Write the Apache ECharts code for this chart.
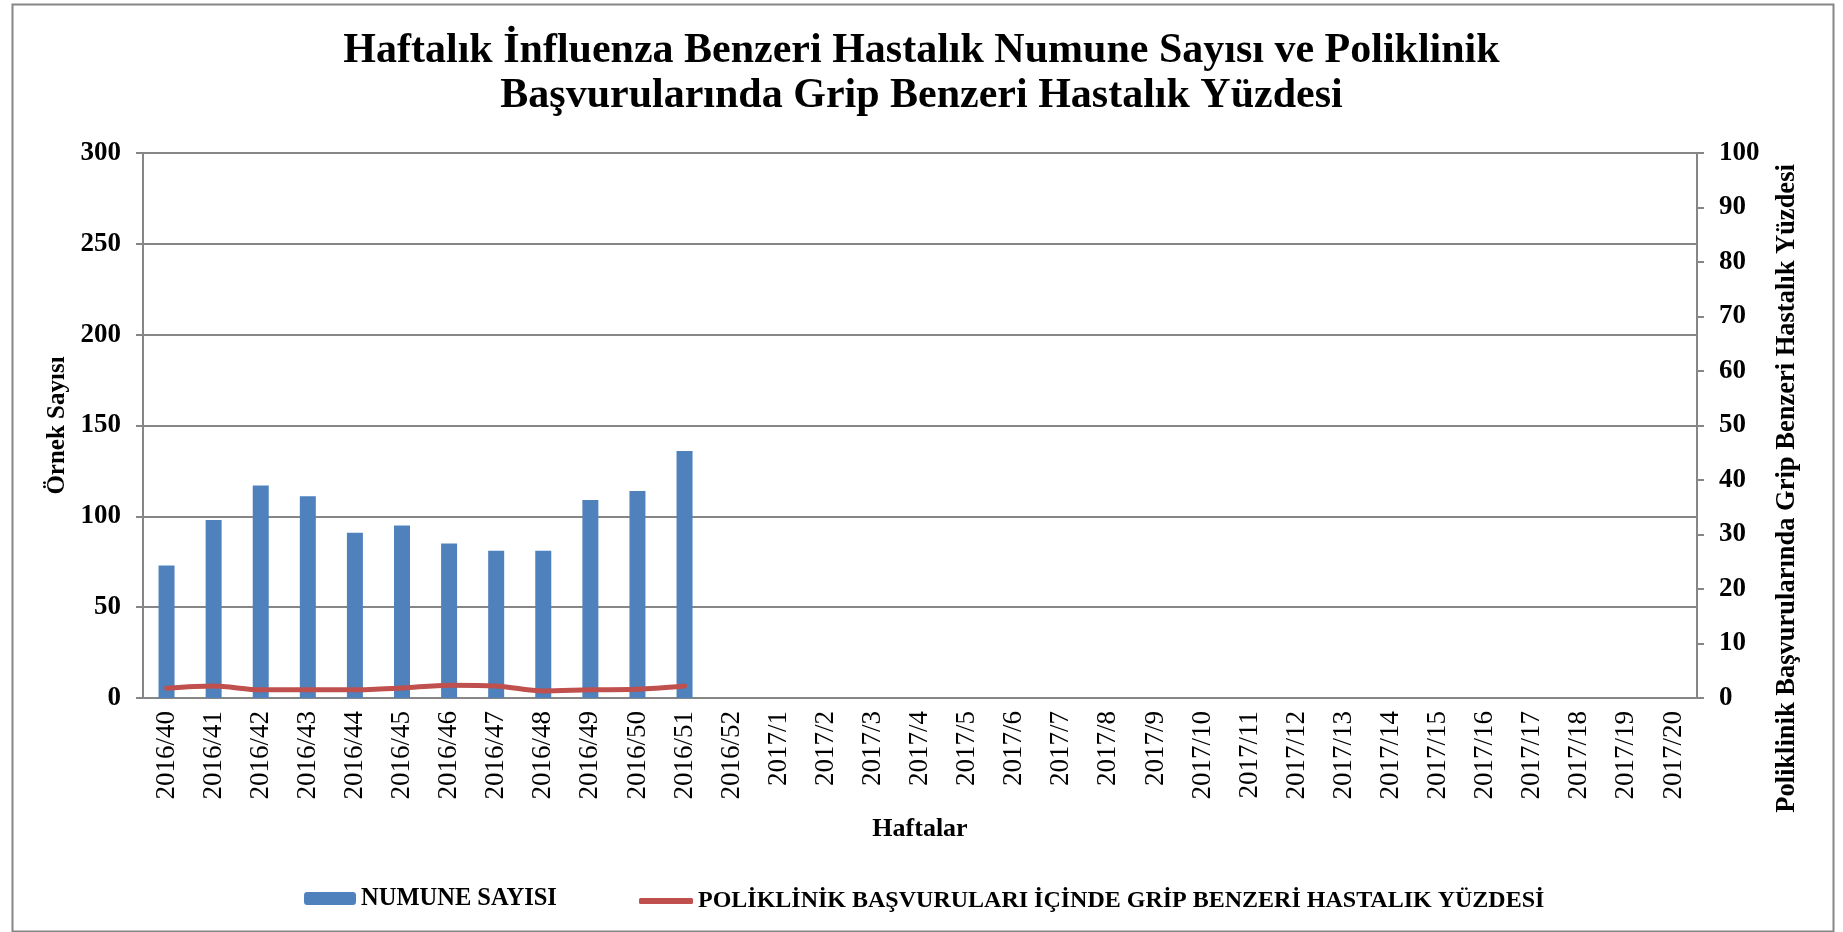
<!DOCTYPE html>
<html>
<head>
<meta charset="utf-8">
<script src="https://cdn.jsdelivr.net/npm/echarts@6/dist/echarts.min.js"></script>
<style>
html,body{margin:0;padding:0;background:#fff;}
#chart{width:1843px;height:932px;}
</style>
</head>
<body>
<div id="chart"></div>
<script>
const titleLines = ['Haftalık İnfluenza Benzeri Hastalık Numune Sayısı ve Poliklinik', 'Başvurularında Grip Benzeri Hastalık Yüzdesi'];
const weeks = ['2016/40','2016/41','2016/42','2016/43','2016/44','2016/45','2016/46','2016/47','2016/48','2016/49','2016/50','2016/51','2016/52',
  '2017/1','2017/2','2017/3','2017/4','2017/5','2017/6','2017/7','2017/8','2017/9','2017/10','2017/11','2017/12','2017/13','2017/14','2017/15','2017/16','2017/17','2017/18','2017/19','2017/20'];
const numuneSayisi = [73, 98, 117, 111, 91, 95, 85, 81, 81, 109, 114, 136];
const gbhYuzdesi = [1.8, 2.2, 1.5, 1.5, 1.5, 1.85, 2.35, 2.2, 1.3, 1.5, 1.6, 2.2];
const leftTicks = {min: 0, max: 300, interval: 50};
const rightTicks = {min: 0, max: 100, interval: 10};
const seriesNames = ['NUMUNE SAYISI', 'POLİKLİNİK BAŞVURULARI İÇİNDE GRİP BENZERİ HASTALIK YÜZDESİ'];
const axisNames = {x: 'Haftalar', left: 'Örnek Sayısı', right: 'Poliklinik Başvurularında Grip Benzeri Hastalık Yüzdesi'};

const FONT = '"Liberation Serif", "Times New Roman", serif';
const chart = echarts.init(document.getElementById('chart'));
const gray = '#868686';
chart.setOption({
  backgroundColor: '#fff',
  animation: false,
  title: {
    text: titleLines.join('\n'),
    left: 'center', top: 24,
    textStyle: {fontFamily: FONT, fontWeight: 'bold', fontSize: 42, lineHeight: 45, color: '#000'}
  },
  graphic: [{
    type: 'rect', left: 10, top: 2, silent: true,
    shape: {width: 1821, height: 927},
    style: {fill: 'none', stroke: gray, lineWidth: 2}
  }],
  legend: [{
    data: [seriesNames[0]], left: 304, top: 886, padding: 0,
    itemWidth: 52, itemHeight: 13,
    textStyle: {fontFamily: FONT, fontWeight: 'bold', fontSize: 24.5, color: '#000'}
  }, {
    data: [{name: seriesNames[1], icon: 'roundRect'}], left: 639, top: 889, padding: 0,
    itemWidth: 54, itemHeight: 6,
    textStyle: {fontFamily: FONT, fontWeight: 'bold', fontSize: 24, color: '#000'}
  }],
  grid: {left: 143, right: 146, top: 153, bottom: 234, containLabel: false},
  xAxis: {
    type: 'category', data: weeks, boundaryGap: true,
    name: axisNames.x, nameLocation: 'middle', nameGap: 118,
    nameTextStyle: {fontFamily: FONT, fontWeight: 'bold', fontSize: 26, color: '#000'},
    axisLine: {lineStyle: {color: gray, width: 2}},
    axisTick: {show: false},
    axisLabel: {rotate: 90, margin: 13, interval: 0, fontFamily: FONT, fontSize: 27, color: '#000'}
  },
  yAxis: [{
    type: 'value', ...leftTicks,
    name: axisNames.left, nameLocation: 'middle', nameGap: 72, nameRotate: 90,
    nameTextStyle: {fontFamily: FONT, fontWeight: 'bold', fontSize: 25, color: '#000'},
    axisLine: {show: true, lineStyle: {color: gray, width: 2}},
    axisTick: {show: true, length: 7, lineStyle: {color: gray, width: 2}},
    axisLabel: {margin: 22, fontFamily: FONT, fontWeight: 'bold', fontSize: 27, color: '#000'},
    splitLine: {lineStyle: {color: gray, width: 2}}
  }, {
    type: 'value', ...rightTicks, position: 'right',
    name: axisNames.right, nameLocation: 'middle', nameGap: 77, nameRotate: 90,
    nameTextStyle: {fontFamily: FONT, fontWeight: 'bold', fontSize: 26.5, color: '#000', padding: [0, 126, 0, 0]},
    axisLine: {show: true, lineStyle: {color: gray, width: 2}},
    axisTick: {show: true, length: 7, lineStyle: {color: gray, width: 2}},
    axisLabel: {margin: 22, fontFamily: FONT, fontWeight: 'bold', fontSize: 27, color: '#000'},
    splitLine: {show: false}
  }],
  series: [{
    name: seriesNames[0], type: 'bar', yAxisIndex: 0,
    data: numuneSayisi, barWidth: 16,
    itemStyle: {color: '#4F81BD'}
  }, {
    name: seriesNames[1], type: 'line', yAxisIndex: 1,
    data: gbhYuzdesi, smooth: 0.3, symbol: 'none',
    lineStyle: {color: '#C0504D', width: 5, cap: 'round'},
    itemStyle: {color: '#C0504D'}
  }]
});
</script>
</body>
</html>
